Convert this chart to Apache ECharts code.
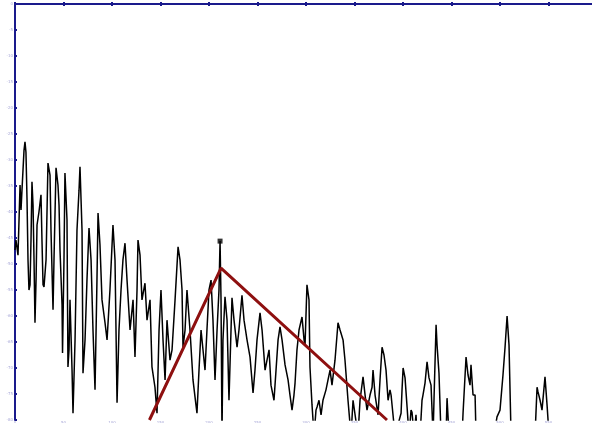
<!DOCTYPE html>
<html>
<head>
<meta charset="utf-8">
<script src="https://cdn.jsdelivr.net/npm/echarts@6/dist/echarts.min.js"></script>
<style>html,body{margin:0;padding:0;background:#fff}#c{width:592px;height:423px}</style>
</head>
<body>
<div id="c"></div>
<script>
// x-axis tick labels (bins) and y-axis level ticks (dB)
const xTicks = [0, 50, 100, 150, 200, 250, 300, 350, 400, 450, 500, 550, 600];
const yTicks = [0, -5, -10, -15, -20, -25, -30, -35, -40, -45, -50, -55, -60, -65, -70, -75, -80];

// spectrum trace: frequency bin and level (dB)
const freq = [0,1,3.1,5.2,6.2,7.2,9.3,10.3,11.3,12.4,13.4,14.4,15.5,16.5,17.5,18.6,19.6,20.6,21.7,22.7,24.7,26.8,27.8,28.9,29.9,32,34,36.1,37.1,39.2,40.2,42.3,44.3,45.4,46.4,48.5,49,50.5,51.5,53.6,54.6,55.7,56.7,58.8,59.8,61.9,63.9,66,67,69.1,70.1,72.2,74.2,76.3,78.4,80.4,82.5,84.5,85.6,87.6,89.7,92.8,94.9,97.9,101,103.1,105.2,107.2,109.3,111.3,113.4,115.5,118.6,121.7,123.7,125.8,126.8,128.9,130.9,134,136.1,139.2,141.2,144.3,146.4,148.5,150.5,152.6,154.7,156.7,159.8,161.9,165,168.1,170.1,172.2,173.2,175.3,177.3,180.4,183.5,185.6,187.6,189.7,191.8,193.8,195.9,197.9,200,202.1,204.1,206.2,208.3,210.3,211.4,212.4,213.4,214.4,216.5,218.6,220.6,222.7,223.7,225.8,228.9,230.9,234,236.1,239.2,242.3,245.4,247.4,249.5,252.6,254.7,257.8,259.8,261.9,263.9,267,269.1,271.2,273.2,275.3,278.4,281.5,283.5,285.6,287.6,288.7,290.7,292.8,295.9,298,299,301,303.1,304.1,306.2,308.3,310.3,311.4,313.4,315.5,317.5,320.6,322.7,324.8,326.8,329.9,333,335.1,338.2,340.2,343.3,346.4,348.5,350.5,353.6,355.7,358.8,360.9,362.9,366,368.1,369.1,371.2,374.3,376.3,378.4,380.4,382.5,384.6,386.6,387.7,389.7,391.8,398,399,400.1,402.1,404.2,406.2,408.3,409.3,411.4,413.4,414.5,417.6,419.6,420.6,422.7,424.8,426.8,428.9,431,432,434.1,435.1,437.1,439.2,444.4,445.4,447.5,460.9,461.9,465,467,469.1,470.1,472.2,474.3,475.3,493.8,496.9,500,503.1,505.2,507.3,509.3,511.4,536.1,538.2,539.2,541.3,543.3,546.4,548.5,550.6];
const level = [-47.3,-45.4,-48.3,-34.8,-39.6,-35.8,-28.1,-26.5,-28.5,-37.7,-49.2,-55.0,-54.0,-45.4,-34.2,-38.7,-49.2,-61.3,-53.1,-42.5,-40.0,-36.7,-45.4,-54.0,-54.4,-49.2,-30.6,-32.9,-43.5,-58.8,-49.2,-31.5,-34.8,-38.7,-47.3,-57.9,-67.1,-49.2,-32.5,-41.5,-69.8,-66.5,-56.9,-70.4,-78.7,-64.6,-43.5,-35.8,-31.3,-43.5,-71.0,-64.6,-53.1,-43.1,-49.2,-62.7,-74.2,-53.1,-40.2,-46.3,-56.9,-61.3,-64.6,-55.0,-42.5,-49.2,-76.7,-62.7,-55.0,-49.2,-46.0,-53.1,-62.7,-56.9,-67.9,-55.0,-45.4,-48.3,-56.9,-53.7,-60.8,-56.9,-69.8,-73.7,-78.7,-62.7,-55.0,-64.6,-72.3,-60.8,-68.5,-66.5,-56.9,-46.7,-49.2,-55.0,-66.0,-62.7,-55.0,-62.7,-72.3,-75.6,-78.7,-70.4,-62.7,-66.5,-70.4,-62.7,-55.0,-53.1,-60.8,-72.3,-62.7,-55.0,-45.6,-56.9,-83,-64.6,-56.3,-60.8,-76.2,-62.7,-56.5,-60.8,-66.0,-62.7,-56.0,-60.8,-64.6,-67.9,-74.8,-70.4,-64.6,-59.4,-62.7,-70.4,-68.5,-66.5,-73.3,-76.2,-70.4,-64.6,-62.1,-64.6,-69.4,-72.3,-75.2,-78.1,-75.2,-72.9,-66.5,-62.7,-60.2,-64.6,-65.6,-54.0,-56.9,-69.8,-77.1,-83,-78.1,-77.5,-76.2,-79.0,-76.2,-74.2,-72.3,-70.4,-73.3,-68.5,-61.3,-62.7,-64.6,-68.5,-76.2,-83,-76.2,-76.2,-83,-76.2,-71.7,-75.2,-78.1,-75.2,-73.7,-70.4,-75.2,-79.0,-72.3,-66.0,-67.5,-70.4,-76.2,-74.2,-75.2,-79.0,-83,-78.7,-74.2,-70.0,-71.9,-77.5,-83,-78.1,-78.5,-83,-79.0,-83,-83,-76.2,-75.2,-72.9,-68.8,-71.9,-73.3,-83,-75.8,-61.7,-65.6,-71.0,-83,-83,-75.8,-83,-83,-78.7,-67.9,-71.3,-73.3,-69.4,-75.2,-75.2,-83,-83,-79.4,-78.1,-71.3,-66.0,-60.0,-65.6,-83,-83,-73.7,-74.6,-76.2,-78.1,-71.7,-77.1,-83];

// red triangle overlay (bin, dB)
const triFreq = [138.6, 212.4, 383.5];
const triLevel = [-80, -50.8, -80];

// marked peak (bin, dB)
const peakFreq = [211.4];
const peakLevel = [-45.6];

const zip = (a, b) => a.map((v, i) => [v, b[i]]);
const axisCol = '#1a1a8c';
const labCol = '#a8a8d8';

const chart = echarts.init(document.getElementById('c'), null, {renderer: 'canvas'});
chart.setOption({
  animation: false,
  backgroundColor: '#fff',
  grid: {left: 15, top: 4, width: 582, height: 416, outerBoundsMode: 'none', containLabel: false},
  xAxis: [{
    type: 'value', position: 'bottom', min: xTicks[0], max: xTicks[xTicks.length - 1], interval: 50,
    axisLine: {show: true, lineStyle: {color: '#2233bb', width: 2}},
    axisTick: {show: true, inside: true, length: 2, lineStyle: {color: axisCol, width: 2}},
    axisLabel: {show: true, fontSize: 4, color: labCol, margin: 1, fontFamily: 'DejaVu Sans'},
    splitLine: {show: false}
  }, {
    type: 'value', position: 'top', min: xTicks[0], max: xTicks[xTicks.length - 1], interval: 50,
    axisLine: {show: true, onZero: false, lineStyle: {color: axisCol, width: 2}},
    axisTick: {show: true, inside: true, length: 2, lineStyle: {color: axisCol, width: 2}},
    axisLabel: {show: false},
    splitLine: {show: false}
  }],
  yAxis: {
    type: 'value', min: yTicks[yTicks.length - 1], max: yTicks[0], interval: 5,
    axisLine: {show: true, onZero: false, lineStyle: {color: axisCol, width: 2}},
    axisTick: {show: true, inside: true, length: 2, lineStyle: {color: axisCol, width: 2}},
    axisLabel: {show: true, fontSize: 4, color: labCol, margin: 2, fontFamily: 'DejaVu Sans'},
    splitLine: {show: false}
  },
  series: [{
    type: 'line', xAxisIndex: 0, data: zip(freq, level), showSymbol: false, clip: true,
    lineStyle: {color: '#000', width: 1.5}, z: 2
  }, {
    type: 'line', xAxisIndex: 0, data: zip(triFreq, triLevel), showSymbol: false, clip: true,
    lineStyle: {color: '#8e1010', width: 3}, z: 3
  }, {
    type: 'scatter', xAxisIndex: 0, data: zip(peakFreq, peakLevel), symbol: 'rect', symbolSize: 5,
    itemStyle: {color: '#000'}, z: 4
  }]
});
</script>
</body>
</html>
